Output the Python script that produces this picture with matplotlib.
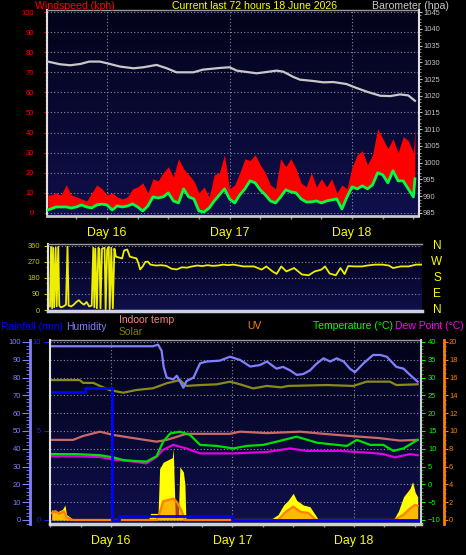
import numpy as np
import matplotlib
matplotlib.use('Agg')
import matplotlib.pyplot as plt
from matplotlib.colors import LinearSegmentedColormap
from matplotlib.ticker import MultipleLocator, FixedLocator
import matplotlib.transforms as mtrans

plt.rcParams['font.family'] = ['Liberation Sans', 'DejaVu Sans']

# ---------------- data (hours relative to start of Day 16) ----------------
day_ticks = [0, 24, 48]
day_labels = ['Day 16', 'Day 17', 'Day 18']

wind_hours = [-11.6, -11, -10, -9, -8, -7, -6, -5, -4, -3, -2, -1, 0, 1, 2, 3, 4, 5, 6, 7, 8, 9,
              10, 11, 12, 13, 14, 15, 16, 17, 18, 19, 20, 21, 22, 23, 24, 25, 26, 27, 28, 29,
              30, 31, 32, 33, 34, 35, 36, 37, 38, 39, 40, 41, 42, 43, 44, 45, 46, 47, 48, 49,
              50, 51, 52, 53, 54, 55, 56, 57, 58, 59, 60, 60.3]
wind_gust = [9, 9, 10, 9, 14, 9, 8, 7, 6, 10, 14, 12, 9, 10, 8, 7, 8, 12, 13, 15, 10, 17,
             16, 20, 23, 18, 27, 22, 19, 16, 10, 13, 8, 19, 20, 29, 12, 14, 20, 27, 26, 29,
             24, 20, 14, 12, 27, 23, 27, 22, 15, 13, 20, 13, 17, 13, 17, 10, 14, 12, 23, 29,
             31, 24, 29, 42, 37, 32, 37, 30, 38, 36, 30, 42]
wind_avg = [1.5, 2, 3, 3, 3, 2.5, 3, 4, 3, 2.5, 4, 4.4, 4, 1.5, 3.5, 3, 3.5, 4.5, 3, 1, 3.5, 8,
            7.5, 8, 10, 6, 5, 12, 8, 7, 1, 0.5, 2.5, 6, 9, 12, 7, 5, 9, 12, 16, 15,
            11.5, 9, 6, 5, 8, 11.5, 10.5, 10, 7, 5.5, 5.5, 6, 5, 6, 6.5, 7, 2, 8, 13, 12,
            13.5, 12, 14, 20, 19, 15, 21, 16, 16, 12, 8, 17]

baro_hours = [-11.6, -9.2, -7.2, -5.2, -3.5, -1.4, 0, 2.6, 5.2, 7.1, 9.7, 11.7, 13.6, 16.9,
              18.8, 22.1, 24, 25.4, 29.3, 31.3, 33.2, 34.5, 36.5, 37.8, 40.4, 42.4, 44.3,
              46.9, 48.2, 50.9, 53.5, 55.5, 57.4, 59.0, 60.3]
barometer = [1030.2, 1029.4, 1029.1, 1029.5, 1030.2, 1030.2, 1029.7, 1028.7, 1028.2, 1028.5,
             1029.2, 1028.2, 1027.0, 1027.0, 1027.8, 1028.3, 1028.5, 1027.5, 1026.7, 1027.1,
             1027.5, 1027.2, 1025.6, 1024.8, 1024.4, 1024.0, 1024.1, 1023.5, 1022.7, 1021.2,
             1020.0, 1019.9, 1020.4, 1020.1, 1018.5]

dir_hours = [-11.6, -11.4, -11.2, -11.0, -10.8, -10.5, -10.3, -10.0, -9.8, -9.5, -9.0, -8.5,
             -8.2, -8.0, -7.5, -7.0, -6.5, -6.0, -5.5, -5.0, -4.5, -4.0, -3.5, -3.2, -3.0,
             -2.8, -2.5, -2.2, -2.0, -1.8, -1.5, -1.0, -0.8, -0.5, -0.2, 0.0, 0.3, 0.6, 0.9,
             1.2, 1.8, 2.4, 2.8, 3.4, 3.9, 4.5, 5.2, 5.6, 5.9, 6.4, 6.9, 7.4, 7.9, 9, 10, 11,
             12, 13, 14, 15, 16, 17, 18, 19, 20, 21, 22, 23, 24, 25, 26, 27, 28, 29.5, 30.4,
             31.6, 32.4, 33.3, 34.3, 35.8, 37.3, 38.6, 39.8, 41.1, 41.8, 42.7, 43.9, 44.8,
             45.6, 46.3, 47.5, 49, 50, 51.5, 53, 54.2, 55, 56.5, 58, 59.5, 60.5]
wind_dir = [20, 355, 10, 350, 15, 350, 20, 355, 25, 15, 20, 30, 355, 25, 20, 30, 45, 55, 40,
            30, 45, 20, 25, 350, 15, 345, 10, 350, 340, 10, 345, 350, 5, 340, 355, 5, 350, 10,
            345, 300, 295, 290, 335, 340, 300, 295, 290, 260, 228, 245, 270, 272, 255, 250,
            252, 248, 232, 228, 240, 238, 245, 250, 247, 252, 248, 250, 255, 252, 255, 250,
            245, 245, 245, 227, 245, 217, 203, 245, 217, 236, 200, 195, 217, 227, 245, 205,
            195, 236, 202, 247, 245, 245, 250, 255, 255, 250, 236, 245, 245, 255, 255]
compass_labels = ['N', 'W', 'S', 'E', 'N']
compass_degrees = [360, 270, 180, 90, 0]

hum_hours = [-11.7, 8.3, 9.3, 10.0, 10.4, 11.0, 12.3, 13.0, 13.6, 14.3, 14.9, 16.3, 17.6,
             18.9, 21.5, 23.5, 25.5, 27.5, 29.4, 30.8, 32.7, 34.0, 35.4, 36.7, 38.0, 39.3,
             40.7, 42.0, 43.3, 44.6, 46.0, 47.2, 48.2, 49.9, 51.8, 53.2, 54.5, 56.4, 57.8,
             59.1, 60.6]
humidity = [97.6, 97.6, 98.5, 95, 86, 80, 79, 81, 78, 74.3, 78, 80, 88, 89, 89.5, 91.7, 89.9,
            86.2, 87, 89, 85, 86, 84, 81.5, 82, 84, 88, 90.8, 89, 90.8, 89, 85, 83, 88, 92.7,
            92.7, 91.7, 86, 85, 81.5, 77.7]

olive_hours = [-11.7, -6.2, -5.5, -3.5, -2.2, -0.3, 2.4, 5.0, 8.3, 11.0, 13.6, 14.9, 17.6,
               20.9, 23.5, 25.5, 28.1, 30.8, 33.6, 35.0, 42.6, 47.9, 50.5, 55.1, 56.4, 60.6]
olive_series = [78.6, 78.6, 77, 77, 75.3, 73, 71.5, 73, 74, 76.8, 78.6, 75.3, 75.8, 76.2,
                77.7, 76.2, 73.9, 75.3, 74.5, 75.3, 75.8, 75.3, 77.7, 77.7, 75.8, 76.2]

rain_hours = [-11.7, -5.1, 0.1, 1.5, 23.9, 60.6]
rainfall = [7.2, 7.4, 0, 0.2, 0, 0]

indoor_hours = [-11.7, -7.5, -5.5, -2.2, 0.4, 4.4, 9.0, 11.0, 14.9, 20.0, 23.5, 25.5, 30.8,
                37.4, 42.0, 47.2, 53.0, 57.1, 60.6]
indoor_temp = [12.5, 12.5, 13.6, 14.8, 13.9, 13.0, 12.0, 12.5, 14.2, 14.2, 14.2, 14.8, 14.4,
               14.8, 14.2, 13.6, 13.0, 12.3, 12.5]

temp_hours = [-11.7, -6.9, -2.2, 0.4, 2.4, 4.4, 7.0, 9.0, 10.3, 11.7, 13.6, 15.6, 17.6, 20.9,
              24.2, 26.8, 30.1, 32.7, 36.7, 40.7, 43.3, 46.6, 48.6, 51.2, 53.8, 55.8, 57.8,
              60.6]
temperature = [8.5, 8.5, 8.2, 7.6, 6.85, 6.6, 6.4, 7.9, 12.0, 14.3, 14.8, 13.9, 11.1, 10.8,
               10.1, 10.8, 11.1, 12.0, 13.4, 11.7, 11.3, 10.8, 12.5, 11.1, 11.1, 9.4, 10.1,
               12.5]

dew_hours = [-11.7, -6.9, -2.2, 0.4, 4.4, 7.0, 9.0, 10.3, 12.3, 14.9, 17.6, 24.2, 30.8, 35.4,
             38.7, 45.3, 51.8, 53.8, 56.1, 59.1, 60.6]
dew_point = [7.9, 7.9, 7.7, 7.0, 6.4, 5.9, 7.7, 9.7, 11.1, 10.1, 8.7, 8.7, 9.1, 10.1, 9.4,
             9.4, 8.8, 8.5, 7.6, 8.5, 8.2]

solar_hours = [-11.7, -11.0, -10.3, -9.6, -9.1, -8.8, -8.2, -7.5, 7.4, 7.8, 9.3, 9.6, 10.3,
               11.6, 12.1, 12.3, 12.5, 12.7, 13.3, 13.6, 14.3, 14.6, 14.8, 31.4, 33.0, 34.1,
               35.0, 36.0, 36.7, 38.0, 39.3, 40.6, 41.0, 55.8, 56.8, 57.8, 59.1, 59.6, 60.1,
               60.6]
solar = [6, 4, 5, 6, 8.4, 3, 1.9, 0, 0, 3.7, 3.7, 28.7, 32.4, 34.3, 35, 40, 20, 1, 2, 29.8,
         27, 20, 0, 0, 3, 8.4, 11, 15, 11, 8.4, 7.5, 1.9, 0, 0, 5, 13, 17.8, 21.5, 15.6, 13]

uv_hours = [-11.7, -11.0, -10.2, -9.3, -8.8, -7.5, 9.0, 9.6, 10.3, 11.6, 12.3, 12.9, 13.9,
            14.6, 33.0, 34.5, 36.0, 37.5, 39.0, 40.5, 56.0, 57.8, 59.1, 60.1, 60.6]
uv_index = [0.8, 1.0, 0.7, 1.0, 0.3, 0, 0, 0.75, 2.1, 2.3, 2.4, 2.1, 1.1, 0, 0, 0.9, 1.5,
            0.9, 0.8, 0, 0, 0.6, 1.3, 1.7, 1.6]

# ---------------- figure ----------------
W, H = 466, 555
PT = 0.72  # points per pixel at dpi 100
fig = plt.figure(figsize=(W / 100, H / 100), dpi=100, facecolor='black')


def rect(l, t, r, b):
    return [l / W, 1 - b / H, (r - l) / W, (b - t) / H]


bg_cmap = LinearSegmentedColormap.from_list('bg', ['#03031a', '#0f0f4c'])
grad = np.linspace(0, 1, 256).reshape(-1, 1)
GRID = dict(color='#8a8aa0', linestyle=(0, (1, 2)), linewidth=0.8)
TICKFS = 5.4


def add_bg(ax):
    ax.imshow(grad, extent=(0, 1, 0, 1), transform=ax.transAxes, aspect='auto',
              cmap=bg_cmap, zorder=0, interpolation='bilinear')


def day_axis(ax, show_labels=True):
    ax.xaxis.set_major_locator(FixedLocator(day_ticks))
    ax.xaxis.set_minor_locator(MultipleLocator(6))
    if show_labels:
        ax.set_xticklabels(day_labels)
    ax.tick_params(axis='x', which='both', colors='#9a9a9a', length=3 * PT, width=1,
                   labelcolor='#ffff00', labelsize=8.9, pad=6)


# ---------- top panel: wind speed + barometer ----------
ax1 = fig.add_axes(rect(47, 10, 418.5, 216))
ax1.set_facecolor('#03031a')
add_bg(ax1)
ax1.fill_between(wind_hours, wind_avg, wind_gust, color='#ff0000', lw=0, zorder=2)
ax1.plot(wind_hours, wind_avg, color='#00ff40', lw=2.0, zorder=3)
ax1.set_xlim(-11.76, 61.0)
ax1.set_ylim(-1.5, 101)
day_axis(ax1)
ax1.yaxis.set_major_locator(MultipleLocator(10))
ax1.yaxis.set_minor_locator(MultipleLocator(2))
ax1.tick_params(axis='y', which='major', colors='#ff0000', labelsize=TICKFS, length=3 * PT, pad=10 * PT)
ax1.tick_params(axis='y', which='minor', colors='#c00000', length=2 * PT)
ax1.grid(True, which='major', **GRID)
for gl in ax1.get_xgridlines() + ax1.get_ygridlines():
    gl.set_zorder(1)
ax1.spines['left'].set_color('#e0e0e0'); ax1.spines['left'].set_linewidth(1.5)
ax1.spines['right'].set_visible(False)
ax1.spines['top'].set_color('#9a9a9a'); ax1.spines['top'].set_linewidth(1)
ax1.spines['bottom'].set_color('#c8c8c8'); ax1.spines['bottom'].set_linewidth(2)

ax1b = ax1.twinx()
ax1b.set_ylim(985 + (-1.5) * 0.6, 985 + 101 * 0.6)
ax1b.plot(baro_hours, barometer, color='#c8c8c8', lw=1.6)
ax1b.yaxis.set_major_locator(MultipleLocator(5))
ax1b.yaxis.set_minor_locator(MultipleLocator(1))
ax1b.tick_params(axis='y', which='major', colors='#c0c0c0', labelsize=TICKFS, length=3 * PT, pad=1.5 * PT)
ax1b.tick_params(axis='y', which='minor', colors='#a0a0a0', length=1.5 * PT)
for s in ['left', 'top', 'bottom']:
    ax1b.spines[s].set_visible(False)
ax1b.spines['right'].set_color('#e0e0e0'); ax1b.spines['right'].set_linewidth(1.5)

fig.text(35 / W, 1 - 6 / H, 'Windspeed (kph)', color='#ff0000', fontsize=7.6, ha='left', va='center')
fig.text(172 / W, 1 - 6 / H, 'Current last 72 hours 18 June 2026', color='#ffff00', fontsize=7.6,
         ha='left', va='center')
fig.text(372 / W, 1 - 6 / H, 'Barometer (hpa)', color='#c8c8c8', fontsize=7.6, ha='left', va='center')

# ---------- middle panel: wind direction ----------
ax2 = fig.add_axes(rect(48, 244, 422, 311))
ax2.set_facecolor('#03031a')
add_bg(ax2)
ax2.plot(dir_hours, wind_dir, color='#eeee00', lw=1.3, zorder=3)
ax2.set_xlim(-11.99, 60.63)
ax2.set_ylim(-5.6, 371)
ax2.tick_params(axis='x', which='both', bottom=False, labelbottom=False)
ax2.yaxis.set_major_locator(MultipleLocator(90))
ax2.yaxis.set_minor_locator(MultipleLocator(30))
ax2.tick_params(axis='y', which='major', colors='#c8c800', labelsize=TICKFS, length=4 * PT, pad=4 * PT)
ax2.tick_params(axis='y', which='minor', colors='#a0a000', length=2 * PT)
ax2.grid(True, axis='y', which='major', **GRID)
ax2.spines['left'].set_color('#e0e0e0'); ax2.spines['left'].set_linewidth(1.5)
ax2.spines['right'].set_visible(False)
ax2.spines['top'].set_color('#9a9a9a'); ax2.spines['top'].set_linewidth(1)
ax2.spines['bottom'].set_color('#d0d0e0'); ax2.spines['bottom'].set_linewidth(2.5)
ctrans = mtrans.blended_transform_factory(ax2.transAxes, ax2.transData)
for lab, deg in zip(compass_labels, compass_degrees):
    ax2.text((437 - 48) / 374, deg, lab, transform=ctrans, color='#ffff00', fontsize=8.5,
             ha='center', va='center', clip_on=False)

# ---------- bottom panel ----------
hum_lim = (-2.25, 101.1)
axb = fig.add_axes(rect(50, 340, 421, 524))
axb.set_facecolor('#03031a')
add_bg(axb)
axb.set_xlim(-12.06, 61.26)
axb.set_ylim(*hum_lim)
axb.fill_between(solar_hours, solar, 0, color='#ffff00', lw=0, zorder=2)
axb.plot(olive_hours, olive_series, color='#8a8a1a', lw=1.6, zorder=3)
axb.plot(hum_hours, humidity, color='#8080ff', lw=1.6, zorder=3)
day_axis(axb)
axb.yaxis.set_major_locator(MultipleLocator(10))
axb.yaxis.set_minor_locator(MultipleLocator(2))
axb.tick_params(axis='y', which='major', colors='#8080ff', labelsize=TICKFS, length=8 * PT, pad=1 * PT)
axb.tick_params(axis='y', which='minor', colors='#8080ff', length=4 * PT)
axb.grid(True, which='major', **GRID)
for gl in axb.get_xgridlines() + axb.get_ygridlines():
    gl.set_zorder(1)
axb.spines['left'].set_position(('outward', 20 * PT))
axb.spines['left'].set_color('#8080ff'); axb.spines['left'].set_linewidth(2)
axb.spines['right'].set_visible(False)
axb.spines['top'].set_color('#9a9a9a'); axb.spines['top'].set_linewidth(1)
axb.spines['bottom'].set_color('#d0d0d0'); axb.spines['bottom'].set_linewidth(2.5)

ax_uv = axb.twinx()
ax_uv.set_ylim(hum_lim[0] / 5, hum_lim[1] / 5)
ax_uv.fill_between(uv_hours, uv_index, 0, color='#ff8000', alpha=0.55, lw=0)
ax_uv.plot(uv_hours, uv_index, color='#ff8000', lw=1.6)
ax_uv.yaxis.set_major_locator(MultipleLocator(2))
ax_uv.yaxis.set_minor_locator(MultipleLocator(0.5))
ax_uv.tick_params(axis='y', which='major', colors='#ff8000', labelsize=TICKFS, length=4 * PT, pad=1 * PT)
ax_uv.tick_params(axis='y', which='minor', colors='#ff8000', length=2 * PT)
for s in ['left', 'top', 'bottom']:
    ax_uv.spines[s].set_visible(False)
ax_uv.spines['right'].set_position(('outward', 23 * PT))
ax_uv.spines['right'].set_color('#ff8000'); ax_uv.spines['right'].set_linewidth(2)

ax_t = axb.twinx()
ax_t.set_ylim(hum_lim[0] / 2 - 10, hum_lim[1] / 2 - 10)
ax_t.plot(indoor_hours, indoor_temp, color='#c86a6a', lw=1.6)
ax_t.plot(dew_hours, dew_point, color='#e000e0', lw=1.6)
ax_t.plot(temp_hours, temperature, color='#00e000', lw=1.6)
ax_t.yaxis.set_major_locator(MultipleLocator(5))
ax_t.yaxis.set_minor_locator(MultipleLocator(1))
ax_t.tick_params(axis='y', which='major', colors='#00ff00', labelsize=TICKFS, length=4 * PT, pad=3 * PT)
ax_t.tick_params(axis='y', which='minor', colors='#00c000', length=2 * PT)
for s in ['left', 'top', 'bottom']:
    ax_t.spines[s].set_visible(False)
ax_t.spines['right'].set_color('#d0d0d0'); ax_t.spines['right'].set_linewidth(1.5)

ax_r = axb.twinx()
ax_r.set_ylim(hum_lim[0] / 10, hum_lim[1] / 10)
ax_r.plot(rain_hours, rainfall, color='#0000ff', lw=2, drawstyle='steps-post')
ax_r.yaxis.tick_left()
ax_r.yaxis.set_major_locator(MultipleLocator(5))
ax_r.yaxis.set_minor_locator(MultipleLocator(1))
ax_r.tick_params(axis='y', which='major', colors='#2020ff', labelsize=TICKFS, length=6 * PT, pad=3 * PT)
ax_r.tick_params(axis='y', which='minor', colors='#2020ff', length=2 * PT)
for s in ['right', 'top', 'bottom']:
    ax_r.spines[s].set_visible(False)
ax_r.spines['left'].set_color('#e0e0e0'); ax_r.spines['left'].set_linewidth(1.5)

legend_row = [
    ('Rainfall (mm)', '#0000ff', 1, 327),
    ('Humidity', '#8080ff', 66, 327),
    ('Indoor temp', '#ff8080', 119, 320),
    ('Solar', '#808000', 119, 332),
    ('UV', '#ff8000', 247, 326),
    ('Temperature (°C)', '#00ff00', 313, 326),
    ('Dew Point (°C)', '#ff00ff', 395, 326),
]
for txt, col, x, y in legend_row:
    fig.text(x / W, 1 - y / H, txt, color=col, fontsize=7.5, ha='left', va='center')

fig.savefig('out.png', dpi=100, facecolor='black')
